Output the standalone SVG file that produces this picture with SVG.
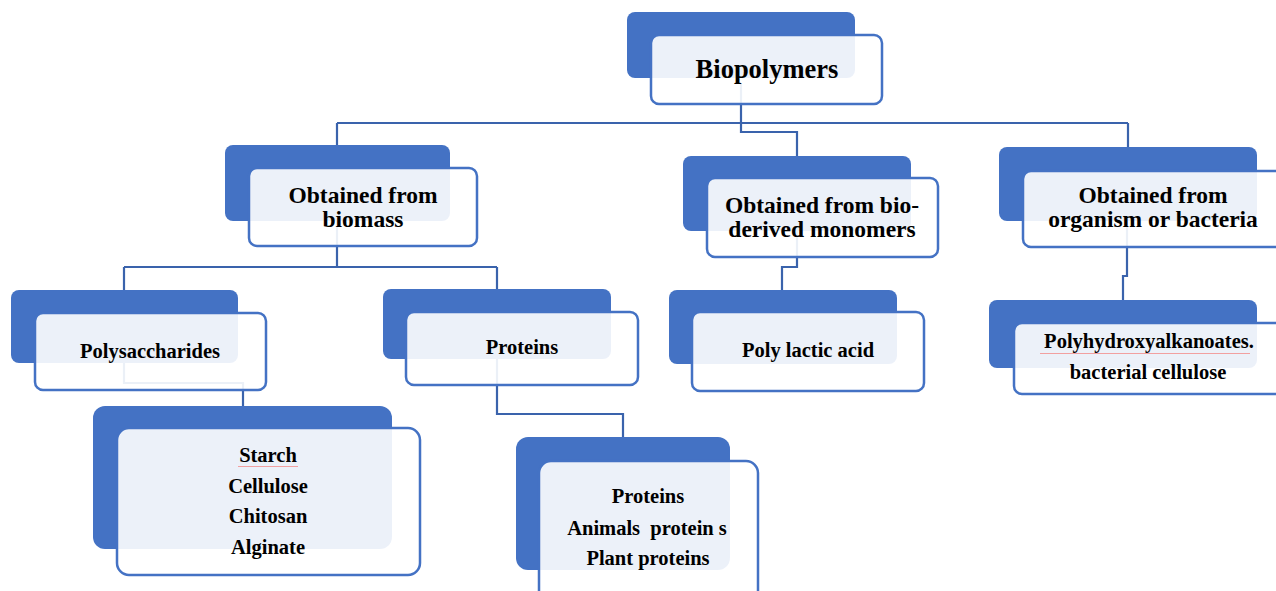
<svg xmlns="http://www.w3.org/2000/svg" width="1276" height="591" viewBox="0 0 1276 591">
<style>
.back{fill:#4472C4;}
.front{fill:#ffffff;fill-opacity:0.9;stroke:#4472C4;stroke-width:2.5;}
.conn{fill:none;stroke:#3A63AC;stroke-width:2.2;}
text{font-family:"Liberation Serif","Times New Roman",serif;font-weight:bold;fill:#000;text-anchor:middle;}
.t1{font-size:26.5px;}
.t2{font-size:23.5px;}
.t3{font-size:20.5px;}
.spell{stroke:#F2A0A0;stroke-width:1;fill:none;}
</style>
<rect width="1276" height="591" fill="#ffffff"/>
<g id="connectors">
<path class="conn" d="M741 84 V123 M337 123 H1128 M337 123 V146 M741 123 V132 H797 V156 M1128 123 V147"/>
<path class="conn" d="M337 221 V267 M124 267 H497 M124 267 V290 M497 267 V289"/>
<path class="conn" d="M797 231 V267 H782 V290"/>
<path class="conn" d="M1127 221 V276 H1123 V300"/>
<path class="conn" d="M124 363 V383 H243 V406"/>
<path class="conn" d="M497 359 V414 H623 V437"/>
</g>
<g id="biopolymers">
<rect class="back" x="627" y="12" width="228" height="66" rx="8"/>
<rect class="front" x="651" y="35" width="231" height="69" rx="8"/>
<text class="t1" x="767" y="78">Biopolymers</text>
</g>
<g id="biomass">
<rect class="back" x="225" y="145" width="225" height="76" rx="8"/>
<rect class="front" x="249" y="168" width="228" height="78" rx="8"/>
<text class="t2" x="363" y="203">Obtained from</text>
<text class="t2" x="363" y="227">biomass</text>
</g>
<g id="monomers">
<rect class="back" x="683" y="156" width="228" height="75" rx="8"/>
<rect class="front" x="707" y="178" width="231" height="79" rx="8"/>
<text class="t2" x="822" y="213">Obtained from bio-</text>
<text class="t2" x="822" y="237">derived monomers</text>
</g>
<g id="bacteria">
<rect class="back" x="999" y="147" width="258" height="74" rx="8"/>
<rect class="front" x="1023" y="171" width="270" height="76" rx="8"/>
<text class="t2" x="1153" y="203">Obtained from</text>
<text class="t2" x="1153" y="227">organism or bacteria</text>
</g>
<g id="polysaccharides">
<rect class="back" x="11" y="290" width="227" height="73" rx="8"/>
<rect class="front" x="35" y="313" width="231" height="77" rx="8"/>
<text class="t3" x="150" y="358">Polysaccharides</text>
</g>
<g id="proteins">
<rect class="back" x="383" y="289" width="228" height="70" rx="8"/>
<rect class="front" x="406" y="312" width="232" height="73" rx="8"/>
<text class="t3" x="522" y="354">Proteins</text>
</g>
<g id="polylactic">
<rect class="back" x="669" y="290" width="228" height="74" rx="8"/>
<rect class="front" x="692" y="312" width="232" height="79" rx="8"/>
<text class="t3" x="808" y="357">Poly lactic acid</text>
</g>
<g id="pha">
<rect class="back" x="989" y="300" width="268" height="68" rx="8"/>
<rect class="front" x="1014" y="323" width="280" height="71" rx="8"/>
<text class="t3" x="1149" y="348">Polyhydroxyalkanoates.</text>
<text class="t3" x="1148" y="379">bacterial cellulose</text>
<line class="spell" x1="1040" y1="353.5" x2="1250" y2="353.5"/>
</g>
<g id="starch">
<rect class="back" x="93" y="406" width="299" height="143" rx="12"/>
<rect class="front" x="117" y="428" width="303" height="147" rx="12"/>
<text class="t3" x="268" y="462">Starch</text>
<text class="t3" x="268" y="493">Cellulose</text>
<text class="t3" x="268" y="523">Chitosan</text>
<text class="t3" x="268" y="554">Alginate</text>
<line class="spell" x1="238" y1="466.5" x2="298" y2="466.5"/>
</g>
<g id="protein-types">
<rect class="back" x="516" y="437" width="214" height="133" rx="12"/>
<rect class="front" x="539" y="461" width="219" height="150" rx="12"/>
<text class="t3" x="648" y="503">Proteins</text>
<text class="t3" x="647" y="535" xml:space="preserve">Animals  protein s</text>
<text class="t3" x="648" y="565">Plant proteins</text>
</g>
</svg>
